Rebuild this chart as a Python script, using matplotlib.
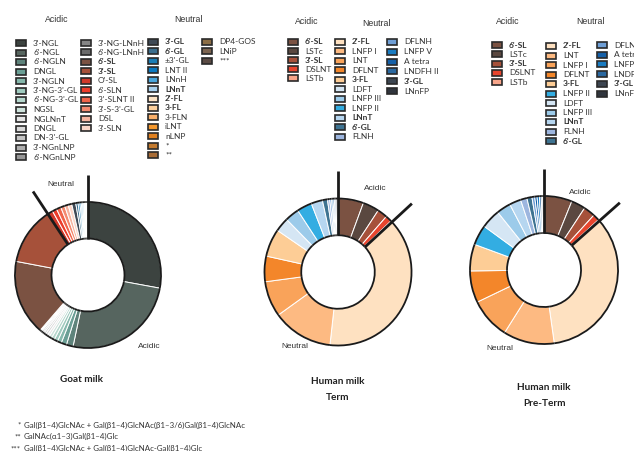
import numpy as np
import matplotlib.pyplot as plt
from matplotlib.patches import Arc, Rectangle

plt.rcParams['font.family'] = ['Lato', 'DejaVu Sans']

W, H = 634, 451

# ---- data (percent of total oligosaccharides) ----
goat_acidic_labels = ["3'-NGL", "6'-NGL", "6'-NGLN", "DNGL", "3'-NGLN", "3'-NG-3'-GL",
                      "6'-NG-3'-GL", "NGSL", "NGLNnT", "DNGL", "DN-3'-GL", "3'-NGnLNP",
                      "6'-NGnLNP", "3'-NG-LNnH", "6'-NG-LNnH", "6'-SL", "3'-SL", "O'-SL",
                      "6'-SLN", "3'-SLNT II", "3'-S-3'-GL", "DSL", "3'-SLN"]
goat_acidic = [28, 25.5, 1.5, 1.2, 0.9, 0.8, 0.7, 0.6, 0.5, 0.5, 0.4, 0.3, 0.3, 0.2, 0.2,
               16.7, 12.8, 1.2, 1.0, 1.0, 0.9, 0.8, 0.8]
goat_neutral_labels = ["3'-GL", "6'-GL", "±3'-GL", "LNT II", "LNnH", "LNnT", "2'-FL", "3-FL",
                       "3-FLN", "iLNT", "nLNP", "*", "**", "DP4-GOS", "LNiP", "***"]
goat_neutral = [0.9, 0.5, 0.4, 0.3, 0.3, 0.3, 0.2, 0.15, 0.1, 0.1, 0.1, 0.05, 0.05, 0.05, 0.05, 0.05]

term_acidic_labels = ["6'-SL", "LSTc", "3'-SL", "DSLNT", "LSTb"]
term_acidic = [5.6, 3.6, 2.2, 1.4, 0.3]
term_neutral_labels = ["2'-FL", "LNFP I", "LNT", "DFLNT", "3-FL", "LDFT", "LNFP III", "LNFP II",
                       "LNnT", "6'-GL", "FLNH", "DFLNH", "LNFP V", "A tetra", "LNDFH II",
                       "3'-GL", "LNnFP"]
term_neutral = [38.6, 13.3, 7.8, 5.6, 6.1, 3.1, 3.1, 3.3, 2.5, 1.1, 0.5, 0.4, 0.3, 0.3, 0.3, 0.3, 0.2]

pre_acidic_labels = ["6'-SL", "LSTc", "3'-SL", "DSLNT", "LSTb"]
pre_acidic = [6.1, 3.1, 2.5, 1.4, 0.3]
pre_neutral_labels = ["2'-FL", "LNT", "LNFP I", "DFLNT", "3-FL", "LNFP II", "LDFT", "LNFP III",
                      "LNnT", "FLNH", "6'-GL", "DFLNH", "A tetra", "LNFP V", "LNDFH II",
                      "3'-GL", "LNnFP"]
pre_neutral = [34.2, 11.1, 8.9, 6.9, 5.8, 4.4, 4.2, 3.1, 2.5, 1.4, 1.1, 0.6, 0.5, 0.5, 0.4, 0.3, 0.3]

bold_names = {"6'-SL", "3'-SL", "3'-GL", "6'-GL", "LNnT", "2'-FL", "3-FL"}

footnotes = ["Gal(β1–4)GlcNAc + Gal(β1–4)GlcNAc(β1–3/6)Gal(β1–4)GlcNAc",
             "GalNAc(α1–3)Gal(β1–4)Glc",
             "Gal(β1–4)GlcNAc + Gal(β1–4)GlcNAc-Gal(β1–4)Glc"]
footnote_marks = ["*", "**", "***"]

# ---- colours ----
goat_acidic_colors = ['#3c4340', '#56655f', '#5e837b', '#6a9f95', '#86b8ac', '#9fcabe',
                      '#b6d7cd', '#cfe3dc', '#e6e6e6', '#d9d9d9', '#c4c4c4', '#aeaeae',
                      '#969696', '#858585', '#6b6b6b', '#7b5242', '#a6513a', '#d0392a',
                      '#ec3c2a', '#f0644a', '#f48a70', '#f6b4a0', '#fbd6c8']
goat_neutral_colors = ['#3f4a56', '#3a6d8d', '#1b7db5', '#0a78c0', '#4aa6dc', '#a9d1ee',
                       '#fde3c4', '#fdd09c', '#f9af6a', '#f5992f', '#e0801f', '#c47a2e',
                       '#a86c36', '#8c6e45', '#7c6450', '#5b4b44']
human_acidic_colors = ['#7b5242', '#5a4840', '#a6513a', '#e8452e', '#f7a58a']
term_neutral_colors = ['#fee1c1', '#fdba82', '#f9a35a', '#f3862a', '#fdcd96', '#d5e6f4',
                       '#9ccbea', '#33ade2', '#b6d6f0', '#3e7391', '#9db6df', '#6f9fd6',
                       '#1a7cc2', '#1560a8', '#2a68a0', '#3c4550', '#30353d']
pre_neutral_colors = ['#fee1c1', '#fdba82', '#f9a35a', '#f3862a', '#fdcd96', '#33ade2',
                      '#d5e6f4', '#9ccbea', '#b6d6f0', '#9db6df', '#3e7391', '#6f9fd6',
                      '#1560a8', '#1a7cc2', '#2a68a0', '#3c4550', '#30353d']


def Y(y):
    return H - y


def donut(ax, values, colors, cx, cy, R, explode, line_at):
    wedges, _ = ax.pie(values, colors=colors, center=(cx, Y(cy)), radius=R,
                       startangle=90, counterclock=False, explode=explode,
                       wedgeprops=dict(width=R * 0.5, edgecolor='white', linewidth=0.7))
    for w in wedges:
        c = w.center
        for r in (w.r, w.r - w.width):
            ax.add_patch(Arc(c, 2 * r, 2 * r, theta1=w.theta1, theta2=w.theta2,
                             color='#1a1a1a', lw=1.3))
    # thick separators; clockwise wedges start at theta2
    for i in line_at:
        ang = np.deg2rad(wedges[i].theta2)
        ax.plot([cx + 0.5 * R * np.cos(ang), cx + 1.37 * R * np.cos(ang)],
                [Y(cy) + 0.5 * R * np.sin(ang), Y(cy) + 1.37 * R * np.sin(ang)],
                color='#1a1a1a', lw=2.0, solid_capstyle='butt')


def legend_col(ax, x, y0, dy, labels, colors):
    for i, (lab, col) in enumerate(zip(labels, colors)):
        y = y0 + i * dy
        ax.add_patch(Rectangle((x, Y(y) - 3), 10, 6, facecolor=col,
                               edgecolor='#2a2a2a', lw=1.2))
        ax.text(x + 17, Y(y), lab, fontsize=6.0, va='center', ha='left', color='#333333',
                fontweight='bold' if lab in bold_names else 'normal')


def header(ax, x, y, s):
    ax.text(x, Y(y), s, fontsize=6.3, ha='center', va='center', color='#333333',
            family=['Liberation Sans', 'DejaVu Sans'])


fig = plt.figure(figsize=(6.34, 4.51), dpi=100)
ax = fig.add_axes([0, 0, 1, 1])

# goat milk
g_vals = goat_acidic + goat_neutral
g_cols = goat_acidic_colors + goat_neutral_colors
g_exp = [0.0] * len(g_vals)
g_exp[15] = 0.035
donut(ax, g_vals, g_cols, 88, 275, 73, g_exp, [0, 17])

# human milk term
t_vals = term_acidic + term_neutral
t_cols = human_acidic_colors + term_neutral_colors
t_exp = [0.0] * len(t_vals)
t_exp[5] = 0.03
t_exp[9] = 0.03
donut(ax, t_vals, t_cols, 338, 272, 73.5, t_exp, [0, 5])

# human milk pre-term
p_vals = pre_acidic + pre_neutral
p_cols = human_acidic_colors + pre_neutral_colors
p_exp = [0.0] * len(p_vals)
p_exp[5] = 0.03
donut(ax, p_vals, p_cols, 544, 270, 74, p_exp, [0, 5])

# legends
header(ax, 57, 19, 'Acidic')
header(ax, 188, 19, 'Neutral')
legend_col(ax, 16, 43, 9.5, goat_acidic_labels[:13], goat_acidic_colors[:13])
legend_col(ax, 81, 43, 9.45, goat_acidic_labels[13:], goat_acidic_colors[13:])
legend_col(ax, 148, 42, 9.42, goat_neutral_labels[:13], goat_neutral_colors[:13])
legend_col(ax, 202, 42, 9.3, goat_neutral_labels[13:], goat_neutral_colors[13:])

header(ax, 307, 22, 'Acidic')
header(ax, 376, 23, 'Neutral')
legend_col(ax, 288, 42, 9.1, term_acidic_labels, human_acidic_colors)
legend_col(ax, 335, 42, 9.45, term_neutral_labels[:11], term_neutral_colors[:11])
legend_col(ax, 387, 42, 9.8, term_neutral_labels[11:], term_neutral_colors[11:])

header(ax, 508, 22, 'Acidic')
header(ax, 590, 22, 'Neutral')
legend_col(ax, 492, 45, 9.3, pre_acidic_labels, human_acidic_colors)
legend_col(ax, 546, 46, 9.5, pre_neutral_labels[:11], pre_neutral_colors[:11])
legend_col(ax, 597, 45, 9.7, pre_neutral_labels[11:], pre_neutral_colors[11:])

# donut group labels
lab_kw = dict(fontsize=6.0, ha='center', va='center', color='#333333',
              family=['Liberation Sans', 'DejaVu Sans'])
ax.text(61, Y(185), 'Neutral', **lab_kw)
ax.text(149, Y(347), 'Acidic', **lab_kw)
ax.text(375, Y(189), 'Acidic', **lab_kw)
ax.text(295, Y(347), 'Neutral', **lab_kw)
ax.text(580, Y(193), 'Acidic', **lab_kw)
ax.text(500, Y(348), 'Neutral', **lab_kw)

# titles
tkw = dict(fontsize=7.2, ha='center', va='center', fontweight='bold', color='#222222')
ax.text(81, Y(379), 'Goat milk', **tkw)
ax.text(338, Y(381), 'Human milk', **tkw)
ax.text(338, Y(397), 'Term', **tkw)
ax.text(544, Y(388), 'Human milk', **tkw)
ax.text(544, Y(403), 'Pre-Term', **tkw)

# footnotes
for i, (m, s) in enumerate(zip(footnote_marks, footnotes)):
    y = 425 + i * 11.8
    ax.text(21, Y(y), m, fontsize=5.7, ha='right', va='center', color='#333333')
    ax.text(24, Y(y), s, fontsize=5.7, ha='left', va='center', color='#333333')

ax.set_xlim(0, W)
ax.set_ylim(0, H)
ax.set_aspect('equal')
ax.axis('off')
fig.savefig('out.png', dpi=100)
